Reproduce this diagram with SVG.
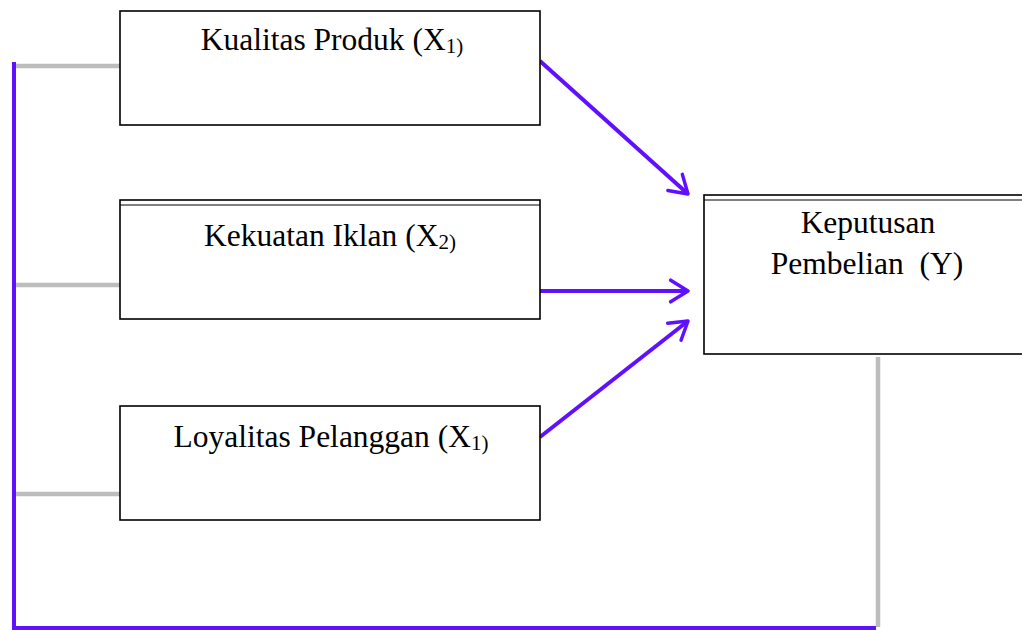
<svg xmlns="http://www.w3.org/2000/svg" width="1022" height="630" viewBox="0 0 1022 630">
<style>
.box{fill:#fff;stroke:#000;stroke-width:1.6}
.t{font-family:"Liberation Serif","Times New Roman",serif;font-size:31.5px;fill:#000}
.sub{font-size:21px}
.p{stroke:#6010ff;stroke-width:4;fill:none}
.g{stroke:#bdbdbd;stroke-width:4.5;fill:none}
</style>
<defs>
<marker id="ah" viewBox="0 0 12 12" refX="10" refY="6" markerWidth="6.5" markerHeight="6.5" orient="auto" markerUnits="strokeWidth">
<path d="M2,1 L10,6 L2,11" fill="none" stroke="#6010ff" stroke-width="1.6" stroke-linecap="round" stroke-linejoin="round"/>
</marker>
</defs>
<g id="connectors">
<line class="g" x1="16" y1="66" x2="120" y2="66"/>
<line class="g" x1="16" y1="285" x2="120" y2="285"/>
<line class="g" x1="16" y1="494" x2="120" y2="494"/>
<line class="g" x1="878" y1="357" x2="878" y2="627"/>
<polyline class="p" points="14,62 14,628 876,628"/>
<line class="p" x1="540" y1="61" x2="688" y2="194" marker-end="url(#ah)"/>
<line class="p" x1="540" y1="291" x2="688" y2="291" marker-end="url(#ah)"/>
<line class="p" x1="540" y1="437" x2="688" y2="321" marker-end="url(#ah)"/>
</g>
<g id="n1">
<rect class="box" x="120" y="11" width="420" height="114"/>
<text class="t" x="332" y="50" text-anchor="middle">Kualitas Produk (X<tspan class="sub" dy="3">1)</tspan></text>
</g>
<g id="n2">
<rect class="box" x="120" y="200" width="420" height="119"/>
<line x1="120" y1="205" x2="540" y2="205" stroke="#000" stroke-width="1"/>
<text class="t" x="330" y="246" text-anchor="middle">Kekuatan Iklan (X<tspan class="sub" dy="3">2)</tspan></text>
</g>
<g id="n3">
<rect class="box" x="120" y="406" width="420" height="114"/>
<text class="t" x="331" y="447" text-anchor="middle">Loyalitas Pelanggan (X<tspan class="sub" dy="3">1)</tspan></text>
</g>
<g id="ny">
<rect class="box" x="704" y="195" width="330" height="159"/>
<line x1="704" y1="200" x2="1022" y2="200" stroke="#000" stroke-width="1"/>
<text class="t" x="868" y="233" text-anchor="middle">Keputusan</text>
<text class="t" x="867" y="274" text-anchor="middle">Pembelian&#160; (Y)</text>
</g>
</svg>
